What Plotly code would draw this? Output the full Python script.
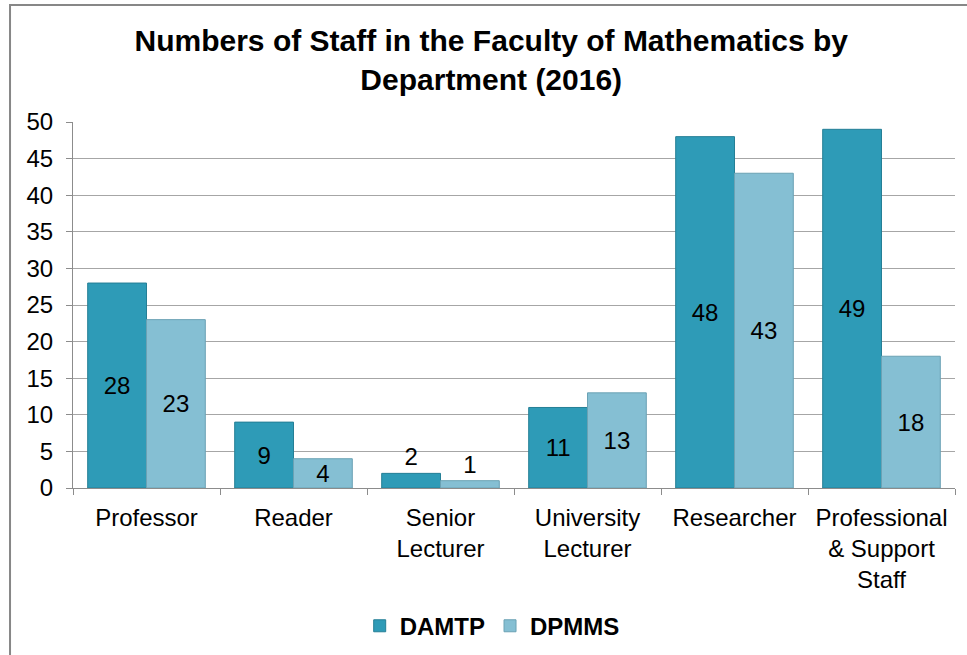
import plotly.graph_objects as go

roles = ["Professor", "Reader", "Senior<br>Lecturer", "University<br>Lecturer",
         "Researcher", "Professional<br>& Support<br>Staff"]
damtp = [28, 9, 2, 11, 48, 49]
dpmms = [23, 4, 1, 13, 43, 18]

def label_pos(vals):
    # tiny bars get their numbers above the bar
    return ["outside" if v < 3 else "inside" for v in vals]

fig = go.Figure()
fig.add_trace(go.Bar(x=roles, y=damtp, name="<b>DAMTP</b>", text=damtp,
                     textposition=label_pos(damtp), insidetextanchor="middle",
                     marker=dict(color="#2E9BB7", line=dict(color="#257F96", width=1))))
fig.add_trace(go.Bar(x=roles, y=dpmms, name="<b>DPMMS</b>", text=dpmms,
                     textposition=label_pos(dpmms), insidetextanchor="middle",
                     marker=dict(color="#85BFD3", line=dict(color="#6BA2B4", width=1))))

fig.update_traces(textfont=dict(size=24, color="black"), textangle=0,
                  constraintext="none", cliponaxis=False)

fig.update_layout(
    width=967, height=655,
    margin=dict(l=73, r=12, t=122, b=167, autoexpand=False),
    paper_bgcolor="white", plot_bgcolor="white",
    font=dict(family="Liberation Sans, Arial", size=24, color="black"),
    title=dict(text="<b>Numbers of Staff in the Faculty of Mathematics by<br>Department (2016)</b>",
               x=0.508, xref="container", xanchor="center",
               y=0.922, yref="container", yanchor="middle",
               font=dict(size=30, color="black")),
    barmode="group", bargap=0.2, bargroupgap=0,
    showlegend=True,
    legend=dict(orientation="h", x=0.509, xref="container", xanchor="center",
                y=0.044, yref="container", yanchor="middle",
                font=dict(size=24, color="black"), itemwidth=30, traceorder="normal"),
)
fig.update_xaxes(tickson="boundaries", ticks="outside", ticklen=6, tickcolor="#8C8C8C",
                 showline=True, linecolor="#8C8C8C", linewidth=1, showgrid=False,
                 tickfont=dict(size=24), ticklabelstandoff=8, automargin=False)
fig.update_yaxes(range=[0, 50], dtick=5, ticks="outside", ticklen=6, tickcolor="#8C8C8C",
                 showline=True, linecolor="#8C8C8C", linewidth=1,
                 showgrid=True, gridcolor="#A6A6A6", gridwidth=1, zeroline=False,
                 tickfont=dict(size=24), ticklabelstandoff=8, automargin=False)

# outer chart border
fig.add_shape(type="rect", xref="paper", yref="paper",
              x0=-0.0714, x1=1.2, y0=1.3197, y1=-0.6,
              line=dict(color="#878787", width=2), fillcolor="rgba(0,0,0,0)")

# drop the browser's default body margin so the figure sits at 0,0
fig.write_html("out.html", config={"displayModeBar": False},
               post_script="document.body.style.margin='0';")
